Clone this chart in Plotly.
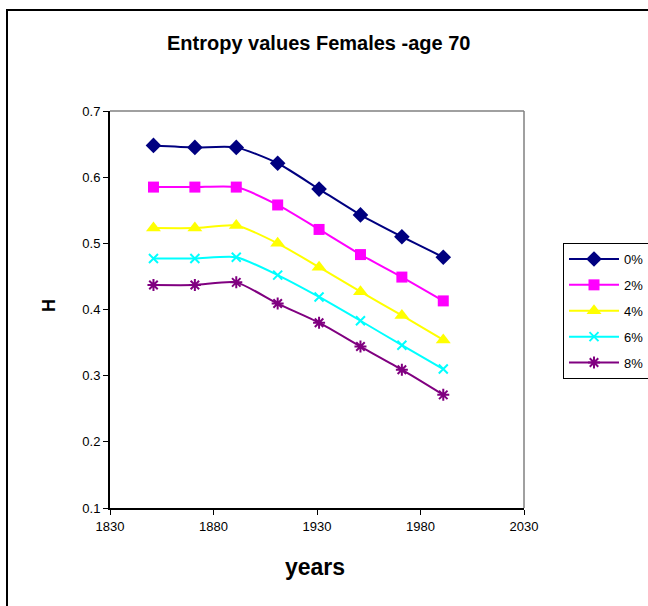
import plotly.graph_objects as go

years = [1851, 1871, 1891, 1911, 1931, 1951, 1971, 1991]
h_0 = [0.648, 0.645, 0.645, 0.621, 0.582, 0.543, 0.510, 0.479]
h_2 = [0.585, 0.585, 0.585, 0.558, 0.521, 0.483, 0.449, 0.413]
h_4 = [0.523, 0.523, 0.527, 0.500, 0.464, 0.427, 0.391, 0.354]
h_6 = [0.477, 0.477, 0.479, 0.452, 0.419, 0.383, 0.346, 0.310]
h_8 = [0.437, 0.437, 0.441, 0.409, 0.380, 0.344, 0.309, 0.271]
series_names = ["0%", "2%", "4%", "6%", "8%"]

styles = [
    ("#000080", "diamond", 12, 0),
    ("#FF00FF", "square", 11, 0),
    ("#FFFF00", "triangle-up", 13, 0),
    ("#00FFFF", "x-thin", 9, 2),
    ("#800080", "asterisk", 10, 2),
]

L, T, R, B = 110, 111, 524, 508
W, H = R - L, B - T


def px(x):
    return (x - L) / W


def py(y):
    return (B - y) / H


fig = go.Figure()
for i, (name, vals) in enumerate(zip(series_names, [h_0, h_2, h_4, h_6, h_8])):
    color, sym, size, lw = styles[i]
    marker = dict(symbol=sym, size=size, color=color)
    if lw:
        marker["line"] = dict(color=color, width=lw)
    else:
        marker["line"] = dict(width=0)
    fig.add_trace(go.Scatter(
        x=years, y=vals, name=name, mode="lines+markers",
        line=dict(color=color, width=2, shape="spline", smoothing=0.6),
        marker=marker, legendgroup=name,
    ))

fig.update_layout(
    width=648, height=606, autosize=False,
    margin=dict(l=L, r=648 - R, t=T, b=606 - B, autoexpand=False),
    paper_bgcolor="white", plot_bgcolor="white",
    font=dict(family="Liberation Sans, Arial, sans-serif", color="black", size=13),
    showlegend=True,
    legend=dict(x=px(563), y=py(243), xanchor="left", yanchor="top",
                bordercolor="black", borderwidth=1, bgcolor="white",
                font=dict(size=13), tracegroupgap=6, itemwidth=50,
                entrywidth=40, entrywidthmode="pixels"),
    xaxis=dict(range=[1830, 2030], tickvals=[1830, 1880, 1930, 1980, 2030],
               ticks="outside", ticklen=5, tickcolor="black", showgrid=False, zeroline=False,
               showline=True, linecolor="black", linewidth=2, automargin=False,
               tickfont=dict(size=13)),
    yaxis=dict(range=[0.1, 0.7], tickvals=[0.1, 0.2, 0.3, 0.4, 0.5, 0.6, 0.7],
               tickformat=".1f",
               ticks="outside", ticklen=5, tickcolor="black", showgrid=False, zeroline=False,
               showline=True, linecolor="black", linewidth=2, automargin=False,
               tickfont=dict(size=13)),
    annotations=[
        dict(text="<b>Entropy values Females -age 70</b>", xref="paper", yref="paper",
             x=px(318), y=py(43), xanchor="center", yanchor="middle", showarrow=False,
             font=dict(size=20)),
        dict(text="<b>years</b>", xref="paper", yref="paper",
             x=px(315), y=py(567), xanchor="center", yanchor="middle", showarrow=False,
             font=dict(size=23)),
        dict(text="<b>H</b>", xref="paper", yref="paper", textangle=-90,
             x=px(49), y=py(306), xanchor="center", yanchor="middle", showarrow=False,
             font=dict(size=18)),
    ],
    shapes=[
        dict(type="line", xref="paper", yref="paper", x0=0, x1=1, y0=1, y1=1,
             line=dict(color="#808080", width=1.5)),
        dict(type="line", xref="paper", yref="paper", x0=1, x1=1, y0=0, y1=1,
             line=dict(color="#808080", width=1.5)),
        dict(type="rect", xref="paper", yref="paper",
             x0=px(7), x1=px(670), y0=py(640), y1=py(10),
             line=dict(color="black", width=2)),
    ],
)

post = "document.body.style.margin='0';document.body.style.overflow='hidden';"

fig.write_html("out.html", post_script=post, config={"displayModeBar": False})
